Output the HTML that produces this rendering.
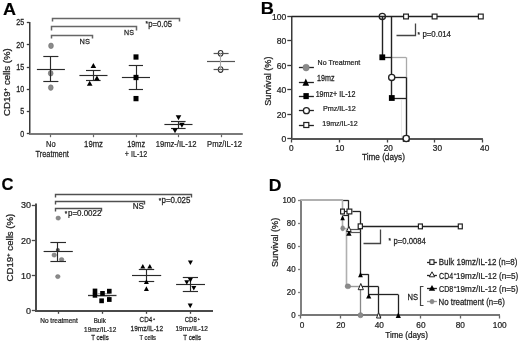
<!DOCTYPE html>
<html><head><meta charset="utf-8"><style>
html,body{margin:0;padding:0;background:#fff;}
svg{display:block;font-family:"Liberation Sans", sans-serif;filter:grayscale(1) blur(0.3px);}
</style></head><body>
<svg width="520" height="343" viewBox="0 0 520 343">
<rect width="520" height="343" fill="#fff"/>
<text transform="translate(2.95,14.6) scale(1.044,1)" font-size="17.3" fill="#000" font-weight="bold" stroke="#000" stroke-width="0.15">A</text>
<line x1="29.75" y1="22.0" x2="29.75" y2="134.5" stroke="#3a3a3a" stroke-width="1.5"/>
<line x1="29.0" y1="134.0" x2="242.8" y2="134.0" stroke="#7a7a7a" stroke-width="2"/>
<line x1="26.8" y1="22.5" x2="29.5" y2="22.5" stroke="#3a3a3a" stroke-width="1.3"/>
<text transform="translate(16.27,25.400000000000002) scale(0.870,1)" font-size="8.2" fill="#1e1e1e" stroke="#1e1e1e" stroke-width="0.25">25</text>
<line x1="26.8" y1="44.5" x2="29.5" y2="44.5" stroke="#3a3a3a" stroke-width="1.3"/>
<text transform="translate(16.25,47.599999999999994) scale(0.870,1)" font-size="8.2" fill="#1e1e1e" stroke="#1e1e1e" stroke-width="0.25">20</text>
<line x1="26.8" y1="67.5" x2="29.5" y2="67.5" stroke="#3a3a3a" stroke-width="1.3"/>
<text transform="translate(16.27,69.89999999999999) scale(0.870,1)" font-size="8.2" fill="#1e1e1e" stroke="#1e1e1e" stroke-width="0.25">15</text>
<line x1="26.8" y1="89.5" x2="29.5" y2="89.5" stroke="#3a3a3a" stroke-width="1.3"/>
<text transform="translate(16.25,92.2) scale(0.870,1)" font-size="8.2" fill="#1e1e1e" stroke="#1e1e1e" stroke-width="0.25">10</text>
<line x1="26.8" y1="111.5" x2="29.5" y2="111.5" stroke="#3a3a3a" stroke-width="1.3"/>
<text transform="translate(20.23,114.39999999999999) scale(0.870,1)" font-size="8.2" fill="#1e1e1e" stroke="#1e1e1e" stroke-width="0.25">5</text>
<line x1="26.8" y1="133.5" x2="29.5" y2="133.5" stroke="#3a3a3a" stroke-width="1.3"/>
<text transform="translate(20.21,136.70000000000002) scale(0.870,1)" font-size="8.2" fill="#1e1e1e" stroke="#1e1e1e" stroke-width="0.25">0</text>
<line x1="50.5" y1="134.5" x2="50.5" y2="137.2" stroke="#666" stroke-width="1.2"/>
<line x1="93.5" y1="134.5" x2="93.5" y2="137.2" stroke="#666" stroke-width="1.2"/>
<line x1="136.5" y1="134.5" x2="136.5" y2="137.2" stroke="#666" stroke-width="1.2"/>
<line x1="178.5" y1="134.5" x2="178.5" y2="137.2" stroke="#666" stroke-width="1.2"/>
<line x1="221.5" y1="134.5" x2="221.5" y2="137.2" stroke="#666" stroke-width="1.2"/>
<text transform="translate(9.70,115.98) rotate(-90)" font-size="8.4" fill="#1e1e1e" stroke="#1e1e1e" stroke-width="0.25" textLength="67.77" lengthAdjust="spacingAndGlyphs">CD19<tspan font-size="5.4" dy="-3.2">+</tspan><tspan dy="3.2"> cells (%)</tspan></text>
<polyline points="52.5,21.5 52.5,18.5 179.5,18.5 179.5,21.5" fill="none" stroke="#666" stroke-width="1.5" stroke-linejoin="miter" stroke-linecap="butt"/>
<polyline points="51.5,30.5 51.5,26.5 136.5,26.5 136.5,30.5" fill="none" stroke="#666" stroke-width="1.5" stroke-linejoin="miter" stroke-linecap="butt"/>
<polyline points="51.5,38.5 51.5,35.5 92.5,35.5 92.5,38.5" fill="none" stroke="#666" stroke-width="1.5" stroke-linejoin="miter" stroke-linecap="butt"/>
<text transform="translate(79.59,43.9) scale(0.926,1)" font-size="8.0" fill="#1e1e1e" stroke="#1e1e1e" stroke-width="0.25">NS</text>
<text transform="translate(124.02,35.0) scale(0.886,1)" font-size="8.0" fill="#1e1e1e" stroke="#1e1e1e" stroke-width="0.25">NS</text>
<text transform="translate(145.60,26.0) scale(1.000,1)" font-size="6.3" fill="#1e1e1e" stroke="#1e1e1e" stroke-width="0.25">*</text>
<text transform="translate(148.30,26.9) scale(0.873,1)" font-size="8.8" fill="#1e1e1e" stroke="#1e1e1e" stroke-width="0.25">p=0.05</text>
<ellipse cx="51" cy="45.8" rx="2.4" ry="2.8" fill="#8a8a8a" stroke="#666" stroke-width="0.5"/>
<ellipse cx="50.7" cy="73.3" rx="2.4" ry="2.8" fill="#8a8a8a" stroke="#666" stroke-width="0.5"/>
<ellipse cx="50.8" cy="87.6" rx="2.4" ry="2.8" fill="#8a8a8a" stroke="#666" stroke-width="0.5"/>
<line x1="36.9" y1="69.5" x2="64.9" y2="69.5" stroke="#2a2a2a" stroke-width="1.15"/>
<line x1="50.5" y1="56.4" x2="50.5" y2="81.0" stroke="#2a2a2a" stroke-width="1.15"/>
<line x1="43.3" y1="56.5" x2="58.4" y2="56.5" stroke="#2a2a2a" stroke-width="1.15"/>
<line x1="43.3" y1="81.5" x2="58.4" y2="81.5" stroke="#2a2a2a" stroke-width="1.15"/>
<line x1="79.4" y1="75.5" x2="107.5" y2="75.5" stroke="#2a2a2a" stroke-width="1.15"/>
<line x1="93.5" y1="70.0" x2="93.5" y2="80.2" stroke="#2a2a2a" stroke-width="1.15"/>
<line x1="86.0" y1="70.5" x2="100.6" y2="70.5" stroke="#2a2a2a" stroke-width="1.15"/>
<line x1="86.0" y1="80.5" x2="100.6" y2="80.5" stroke="#2a2a2a" stroke-width="1.15"/>
<polygon points="93.40,63.10 96.20,68.10 90.60,68.10" fill="#000" stroke="none" stroke-width="1.0" stroke-linejoin="miter"/>
<polygon points="96.90,75.40 99.70,80.40 94.10,80.40" fill="#000" stroke="none" stroke-width="1.0" stroke-linejoin="miter"/>
<polygon points="89.70,80.70 92.50,85.70 86.90,85.70" fill="#000" stroke="none" stroke-width="1.0" stroke-linejoin="miter"/>
<line x1="121.9" y1="77.5" x2="150" y2="77.5" stroke="#2a2a2a" stroke-width="1.15"/>
<line x1="136.5" y1="65.6" x2="136.5" y2="89.75" stroke="#2a2a2a" stroke-width="1.15"/>
<line x1="128.75" y1="65.5" x2="143" y2="65.5" stroke="#2a2a2a" stroke-width="1.15"/>
<line x1="128.75" y1="89.5" x2="143" y2="89.5" stroke="#2a2a2a" stroke-width="1.15"/>
<rect x="133.50" y="54.35" width="5.0" height="5.3" fill="#000" stroke="none" stroke-width="1.0"/>
<rect x="133.50" y="74.85" width="5.0" height="5.3" fill="#000" stroke="none" stroke-width="1.0"/>
<rect x="133.50" y="95.95" width="5.0" height="5.3" fill="#000" stroke="none" stroke-width="1.0"/>
<line x1="164.4" y1="124.5" x2="192.5" y2="124.5" stroke="#2a2a2a" stroke-width="1.15"/>
<line x1="178.5" y1="121" x2="178.5" y2="128.25" stroke="#2a2a2a" stroke-width="1.15"/>
<line x1="171" y1="121.5" x2="185.6" y2="121.5" stroke="#2a2a2a" stroke-width="1.15"/>
<line x1="171" y1="128.5" x2="185.6" y2="128.5" stroke="#2a2a2a" stroke-width="1.15"/>
<polygon points="178.50,120.30 181.30,115.30 175.70,115.30" fill="#000" stroke="none" stroke-width="1.0" stroke-linejoin="miter"/>
<polygon points="181.90,127.70 184.70,122.70 179.10,122.70" fill="#000" stroke="none" stroke-width="1.0" stroke-linejoin="miter"/>
<polygon points="175.00,133.20 177.80,128.20 172.20,128.20" fill="#000" stroke="none" stroke-width="1.0" stroke-linejoin="miter"/>
<ellipse cx="220.6" cy="53.3" rx="2.3" ry="2.8" fill="none" stroke="#333" stroke-width="1.1"/>
<ellipse cx="220.6" cy="69.6" rx="2.3" ry="2.8" fill="none" stroke="#333" stroke-width="1.1"/>
<line x1="207" y1="61.5" x2="235" y2="61.5" stroke="#555" stroke-width="1.2"/>
<line x1="213.6" y1="53.5" x2="228.6" y2="53.5" stroke="#555" stroke-width="1.2"/>
<line x1="213.6" y1="69.5" x2="228.6" y2="69.5" stroke="#555" stroke-width="1.2"/>
<line x1="220.5" y1="53.2" x2="220.5" y2="69.6" stroke="#aaa" stroke-width="1.1"/>
<text transform="translate(46.08,146.5) scale(0.785,1)" font-size="9.6" fill="#1e1e1e" stroke="#1e1e1e" stroke-width="0.25">No</text>
<text transform="translate(35.53,157.2) scale(0.768,1)" font-size="9.6" fill="#1e1e1e" stroke="#1e1e1e" stroke-width="0.25">Treatment</text>
<text transform="translate(84.12,146.5) scale(0.804,1)" font-size="9.6" fill="#1e1e1e" stroke="#1e1e1e" stroke-width="0.25">19mz</text>
<text transform="translate(127.15,146.5) scale(0.768,1)" font-size="9.6" fill="#1e1e1e" stroke="#1e1e1e" stroke-width="0.25">19mz</text>
<text transform="translate(124.86,157.2) scale(0.740,1)" font-size="9.6" fill="#1e1e1e" stroke="#1e1e1e" stroke-width="0.25">+ IL-12</text>
<text transform="translate(155.63,146.5) scale(0.797,1)" font-size="9.6" fill="#1e1e1e" stroke="#1e1e1e" stroke-width="0.25">19mz-/IL-12</text>
<text transform="translate(207.07,146.5) scale(0.797,1)" font-size="9.6" fill="#1e1e1e" stroke="#1e1e1e" stroke-width="0.25">Pmz/IL-12</text>
<text transform="translate(260.77,13.9) scale(1.083,1)" font-size="16.8" fill="#000" font-weight="bold" stroke="#000" stroke-width="0.15">B</text>
<line x1="291.75" y1="16.0" x2="291.75" y2="139.5" stroke="#3a3a3a" stroke-width="1.5"/>
<line x1="291.0" y1="139.0" x2="482.9" y2="139.0" stroke="#555" stroke-width="2"/>
<line x1="287.3" y1="16.5" x2="291.5" y2="16.5" stroke="#3a3a3a" stroke-width="1.3"/>
<text transform="translate(272.05,19.5) scale(0.930,1)" font-size="9.2" fill="#1e1e1e" stroke="#1e1e1e" stroke-width="0.25">100</text>
<line x1="287.3" y1="40.5" x2="291.5" y2="40.5" stroke="#3a3a3a" stroke-width="1.3"/>
<text transform="translate(276.82,43.9) scale(0.930,1)" font-size="9.2" fill="#1e1e1e" stroke="#1e1e1e" stroke-width="0.25">80</text>
<line x1="287.3" y1="65.5" x2="291.5" y2="65.5" stroke="#3a3a3a" stroke-width="1.3"/>
<text transform="translate(276.82,68.5) scale(0.930,1)" font-size="9.2" fill="#1e1e1e" stroke="#1e1e1e" stroke-width="0.25">60</text>
<line x1="287.3" y1="89.5" x2="291.5" y2="89.5" stroke="#3a3a3a" stroke-width="1.3"/>
<text transform="translate(276.82,92.89999999999999) scale(0.930,1)" font-size="9.2" fill="#1e1e1e" stroke="#1e1e1e" stroke-width="0.25">40</text>
<line x1="287.3" y1="114.5" x2="291.5" y2="114.5" stroke="#3a3a3a" stroke-width="1.3"/>
<text transform="translate(276.82,117.5) scale(0.930,1)" font-size="9.2" fill="#1e1e1e" stroke="#1e1e1e" stroke-width="0.25">20</text>
<line x1="287.3" y1="138.5" x2="291.5" y2="138.5" stroke="#3a3a3a" stroke-width="1.3"/>
<text transform="translate(281.57,141.9) scale(0.930,1)" font-size="9.2" fill="#1e1e1e" stroke="#1e1e1e" stroke-width="0.25">0</text>
<line x1="291.5" y1="139.5" x2="291.5" y2="142.5" stroke="#444" stroke-width="1.3"/>
<line x1="339.5" y1="139.5" x2="339.5" y2="142.5" stroke="#444" stroke-width="1.3"/>
<line x1="387.5" y1="139.5" x2="387.5" y2="142.5" stroke="#444" stroke-width="1.3"/>
<line x1="434.5" y1="139.5" x2="434.5" y2="142.5" stroke="#444" stroke-width="1.3"/>
<line x1="482.5" y1="139.5" x2="482.5" y2="142.5" stroke="#444" stroke-width="1.3"/>
<text transform="translate(289.11,151.0) scale(0.980,1)" font-size="8.4" fill="#1e1e1e" stroke="#1e1e1e" stroke-width="0.25">0</text>
<text transform="translate(335.28,151.0) scale(0.980,1)" font-size="8.4" fill="#1e1e1e" stroke="#1e1e1e" stroke-width="0.25">10</text>
<text transform="translate(383.68,151.0) scale(0.980,1)" font-size="8.4" fill="#1e1e1e" stroke="#1e1e1e" stroke-width="0.25">20</text>
<text transform="translate(432.83,151.0) scale(0.980,1)" font-size="8.4" fill="#1e1e1e" stroke="#1e1e1e" stroke-width="0.25">30</text>
<text transform="translate(480.09,151.0) scale(0.980,1)" font-size="8.4" fill="#1e1e1e" stroke="#1e1e1e" stroke-width="0.25">40</text>
<text transform="translate(361.92,160.2) scale(0.979,1)" font-size="8.4" fill="#1e1e1e" stroke="#1e1e1e" stroke-width="0.25">Time (days)</text>
<text transform="translate(271.10,105.77) rotate(-90)" font-size="8.6" fill="#1e1e1e" stroke="#1e1e1e" stroke-width="0.25" textLength="49.29" lengthAdjust="spacingAndGlyphs">Survival (%)</text>
<line x1="291.5" y1="16.5" x2="480.8" y2="16.5" stroke="#222" stroke-width="1.3"/>
<line x1="382.5" y1="16.5" x2="382.5" y2="57.3" stroke="#222" stroke-width="1.4"/>
<line x1="382.3" y1="57.5" x2="391.8" y2="57.5" stroke="#222" stroke-width="1.3"/>
<line x1="391.8" y1="57.5" x2="406" y2="57.5" stroke="#aaa" stroke-width="1.3"/>
<line x1="391.5" y1="16.5" x2="391.5" y2="98" stroke="#222" stroke-width="1.4"/>
<line x1="391.8" y1="77.5" x2="406" y2="77.5" stroke="#222" stroke-width="1.3"/>
<line x1="391.8" y1="98.5" x2="406" y2="98.5" stroke="#222" stroke-width="1.3"/>
<line x1="406.5" y1="57.3" x2="406.5" y2="77.2" stroke="#aaa" stroke-width="1.3"/>
<line x1="406.5" y1="77.2" x2="406.5" y2="138.6" stroke="#222" stroke-width="1.4"/>
<line x1="401.5" y1="100" x2="401.5" y2="138" stroke="#e4e4e4" stroke-width="0.8"/>
<circle cx="382.3" cy="16.4" r="3.1" fill="none" stroke="#222" stroke-width="1.3"/>
<rect x="379.40" y="54.40" width="5.8" height="5.8" fill="#000" stroke="none" stroke-width="1.0"/>
<circle cx="391.7" cy="77.4" r="3.1" fill="#fff" stroke="#222" stroke-width="1.3"/>
<rect x="388.90" y="95.10" width="5.8" height="5.8" fill="#000" stroke="none" stroke-width="1.0"/>
<rect x="403.30" y="136.30" width="5.6" height="5.0" fill="#fff" stroke="#222" stroke-width="1.1"/>
<circle cx="406.2" cy="138.5" r="3.1" fill="#fff" stroke="#222" stroke-width="1.3"/>
<rect x="403.60" y="14.10" width="4.8" height="4.8" fill="#fff" stroke="#222" stroke-width="1.2"/>
<rect x="432.20" y="14.10" width="4.8" height="4.8" fill="#fff" stroke="#222" stroke-width="1.2"/>
<rect x="478.40" y="14.10" width="4.8" height="4.8" fill="#fff" stroke="#222" stroke-width="1.2"/>
<polyline points="396.5,35.5 415.5,35.5 415.5,23.5" fill="none" stroke="#444" stroke-width="1.3" stroke-linejoin="miter" stroke-linecap="butt"/>
<text transform="translate(417.60,36.7) scale(1.000,1)" font-size="6.3" fill="#1e1e1e" stroke="#1e1e1e" stroke-width="0.25">*</text>
<text transform="translate(422.39,36.8) scale(0.893,1)" font-size="8.8" fill="#1e1e1e" stroke="#1e1e1e" stroke-width="0.25">p=0.014</text>
<line x1="298.9" y1="67.5" x2="313.9" y2="67.5" stroke="#222" stroke-width="1.3"/>
<line x1="298.9" y1="82.5" x2="313.9" y2="82.5" stroke="#222" stroke-width="1.3"/>
<line x1="298.9" y1="96.5" x2="313.9" y2="96.5" stroke="#222" stroke-width="1.3"/>
<line x1="298.9" y1="110.5" x2="313.9" y2="110.5" stroke="#222" stroke-width="1.3"/>
<line x1="298.9" y1="125.5" x2="313.9" y2="125.5" stroke="#222" stroke-width="1.3"/>
<text transform="translate(317.62,65.0) scale(0.882,1)" font-size="8.0" fill="#1e1e1e" stroke="#1e1e1e" stroke-width="0.25">No Treatment</text>
<text transform="translate(317.06,81.2) scale(0.873,1)" font-size="8.2" fill="#1e1e1e" stroke="#1e1e1e" stroke-width="0.25">19mz</text>
<text transform="translate(315.66,96.5) scale(0.871,1)" font-size="8.2" fill="#1e1e1e" stroke="#1e1e1e" stroke-width="0.25">19mz+ IL-12</text>
<text transform="translate(322.90,111.0) scale(0.904,1)" font-size="8.0" fill="#1e1e1e" stroke="#1e1e1e" stroke-width="0.25">Pmz/IL-12</text>
<text transform="translate(322.27,126.0) scale(0.887,1)" font-size="8.0" fill="#1e1e1e" stroke="#1e1e1e" stroke-width="0.25">19mz/IL-12</text>
<ellipse cx="306.1" cy="67.6" rx="3.2" ry="3.4" fill="#8a8a8a" stroke="#777" stroke-width="0.5"/>
<polygon points="305.80,78.45 309.10,85.65 302.50,85.65" fill="#000" stroke="none" stroke-width="1.0" stroke-linejoin="miter"/>
<rect x="303.40" y="93.10" width="5.4" height="6.0" fill="#000" stroke="none" stroke-width="1.0"/>
<circle cx="306.4" cy="110.7" r="3.0" fill="#fff" stroke="#222" stroke-width="1.3"/>
<rect x="303.80" y="122.50" width="5.0" height="5.0" fill="#fff" stroke="#222" stroke-width="1.2"/>
<text transform="translate(1.43,189.6) scale(0.962,1)" font-size="17.3" fill="#000" font-weight="bold" stroke="#000" stroke-width="0.15">C</text>
<line x1="36" y1="203.5" x2="36" y2="312" stroke="#4a4a4a" stroke-width="2"/>
<line x1="35" y1="311" x2="213" y2="311" stroke="#4a4a4a" stroke-width="2"/>
<line x1="31.8" y1="205.5" x2="35.5" y2="205.5" stroke="#4a4a4a" stroke-width="1.3"/>
<text transform="translate(20.92,208.3) scale(0.940,1)" font-size="9.6" fill="#1e1e1e" stroke="#1e1e1e" stroke-width="0.25">30</text>
<line x1="31.8" y1="240.5" x2="35.5" y2="240.5" stroke="#4a4a4a" stroke-width="1.3"/>
<text transform="translate(20.92,243.5) scale(0.940,1)" font-size="9.6" fill="#1e1e1e" stroke="#1e1e1e" stroke-width="0.25">20</text>
<line x1="31.8" y1="275.5" x2="35.5" y2="275.5" stroke="#4a4a4a" stroke-width="1.3"/>
<text transform="translate(20.92,278.75) scale(0.940,1)" font-size="9.6" fill="#1e1e1e" stroke="#1e1e1e" stroke-width="0.25">10</text>
<line x1="31.8" y1="310.5" x2="35.5" y2="310.5" stroke="#4a4a4a" stroke-width="1.3"/>
<text transform="translate(25.93,314.0) scale(0.940,1)" font-size="9.6" fill="#1e1e1e" stroke="#1e1e1e" stroke-width="0.25">0</text>
<line x1="58.5" y1="311.5" x2="58.5" y2="313.8" stroke="#444" stroke-width="1.3"/>
<line x1="102.5" y1="311.5" x2="102.5" y2="313.8" stroke="#444" stroke-width="1.3"/>
<line x1="146.5" y1="311.5" x2="146.5" y2="313.8" stroke="#444" stroke-width="1.3"/>
<line x1="190.5" y1="311.5" x2="190.5" y2="313.8" stroke="#444" stroke-width="1.3"/>
<text transform="translate(12.90,281.48) rotate(-90)" font-size="8.4" fill="#1e1e1e" stroke="#1e1e1e" stroke-width="0.25" textLength="67.67" lengthAdjust="spacingAndGlyphs">CD19<tspan font-size="5.4" dy="-3.2">+</tspan><tspan dy="3.2"> cells (%)</tspan></text>
<polyline points="55.5,197.5 55.5,194.5 191.5,194.5 191.5,197.5" fill="none" stroke="#505050" stroke-width="1.4" stroke-linejoin="miter" stroke-linecap="butt"/>
<polyline points="55.5,204.5 55.5,201.5 144.5,201.5 144.5,204.5" fill="none" stroke="#505050" stroke-width="1.4" stroke-linejoin="miter" stroke-linecap="butt"/>
<polyline points="55.5,211.5 55.5,208.5 101.5,208.5 101.5,211.5" fill="none" stroke="#505050" stroke-width="1.4" stroke-linejoin="miter" stroke-linecap="butt"/>
<text transform="translate(64.80,215.6) scale(1.000,1)" font-size="6.3" fill="#1e1e1e" stroke="#1e1e1e" stroke-width="0.25">*</text>
<text transform="translate(67.98,216.0) scale(0.906,1)" font-size="8.8" fill="#1e1e1e" stroke="#1e1e1e" stroke-width="0.25">p=0.0022</text>
<text transform="translate(132.63,208.8) scale(0.967,1)" font-size="8.4" fill="#1e1e1e" stroke="#1e1e1e" stroke-width="0.25">NS</text>
<text transform="translate(158.70,202.8) scale(1.000,1)" font-size="6.3" fill="#1e1e1e" stroke="#1e1e1e" stroke-width="0.25">*</text>
<text transform="translate(161.48,203.1) scale(0.903,1)" font-size="8.8" fill="#1e1e1e" stroke="#1e1e1e" stroke-width="0.25">p=0.025</text>
<ellipse cx="58.2" cy="218.1" rx="2.3" ry="2.1" fill="#8a8a8a" stroke="#666" stroke-width="0.4"/>
<ellipse cx="54.2" cy="255.1" rx="2.3" ry="2.1" fill="#8a8a8a" stroke="#666" stroke-width="0.4"/>
<ellipse cx="61.6" cy="259.5" rx="2.3" ry="2.1" fill="#8a8a8a" stroke="#666" stroke-width="0.4"/>
<ellipse cx="57.8" cy="276.6" rx="2.3" ry="2.1" fill="#8a8a8a" stroke="#666" stroke-width="0.4"/>
<ellipse cx="57.8" cy="250" rx="2.0" ry="2.0" fill="#555" stroke="none" stroke-width="1.0"/>
<line x1="43.6" y1="251.5" x2="72.8" y2="251.5" stroke="#2a2a2a" stroke-width="1.15"/>
<line x1="57.5" y1="242" x2="57.5" y2="261.6" stroke="#2a2a2a" stroke-width="1.15"/>
<line x1="50.4" y1="242.5" x2="66" y2="242.5" stroke="#2a2a2a" stroke-width="1.15"/>
<line x1="50.4" y1="261.5" x2="66" y2="261.5" stroke="#2a2a2a" stroke-width="1.15"/>
<line x1="88" y1="295.5" x2="116.5" y2="295.5" stroke="#333" stroke-width="1.3"/>
<line x1="98" y1="293.5" x2="110" y2="293.5" stroke="#999" stroke-width="0.8"/>
<line x1="98" y1="296.5" x2="110" y2="296.5" stroke="#999" stroke-width="0.8"/>
<rect x="92.70" y="288.60" width="4.6" height="4.8" fill="#000" stroke="none" stroke-width="1.0"/>
<rect x="92.70" y="292.90" width="4.6" height="4.8" fill="#000" stroke="none" stroke-width="1.0"/>
<rect x="100.20" y="291.00" width="4.6" height="4.8" fill="#000" stroke="none" stroke-width="1.0"/>
<rect x="107.00" y="288.80" width="4.6" height="4.8" fill="#000" stroke="none" stroke-width="1.0"/>
<rect x="99.30" y="298.40" width="4.6" height="4.8" fill="#000" stroke="none" stroke-width="1.0"/>
<rect x="107.00" y="297.10" width="4.6" height="4.8" fill="#000" stroke="none" stroke-width="1.0"/>
<line x1="132" y1="275.5" x2="161.2" y2="275.5" stroke="#2a2a2a" stroke-width="1.15"/>
<line x1="146.5" y1="269" x2="146.5" y2="281" stroke="#2a2a2a" stroke-width="1.15"/>
<line x1="138.8" y1="269.5" x2="154.2" y2="269.5" stroke="#2a2a2a" stroke-width="1.15"/>
<line x1="138.8" y1="281.5" x2="154.2" y2="281.5" stroke="#2a2a2a" stroke-width="1.15"/>
<polygon points="142.80,264.00 145.30,268.60 140.30,268.60" fill="#000" stroke="none" stroke-width="1.0" stroke-linejoin="miter"/>
<polygon points="149.80,264.00 152.30,268.60 147.30,268.60" fill="#000" stroke="none" stroke-width="1.0" stroke-linejoin="miter"/>
<polygon points="146.40,279.30 148.90,283.90 143.90,283.90" fill="#000" stroke="none" stroke-width="1.0" stroke-linejoin="miter"/>
<polygon points="146.40,286.30 148.90,290.90 143.90,290.90" fill="#000" stroke="none" stroke-width="1.0" stroke-linejoin="miter"/>
<line x1="176.1" y1="284.5" x2="205" y2="284.5" stroke="#2a2a2a" stroke-width="1.15"/>
<line x1="190.5" y1="277.3" x2="190.5" y2="291.25" stroke="#2a2a2a" stroke-width="1.15"/>
<line x1="182.8" y1="277.5" x2="198" y2="277.5" stroke="#2a2a2a" stroke-width="1.15"/>
<line x1="182.8" y1="291.5" x2="198" y2="291.5" stroke="#2a2a2a" stroke-width="1.15"/>
<polygon points="190.40,265.10 192.90,260.50 187.90,260.50" fill="#000" stroke="none" stroke-width="1.0" stroke-linejoin="miter"/>
<polygon points="190.40,282.60 192.90,278.00 187.90,278.00" fill="#000" stroke="none" stroke-width="1.0" stroke-linejoin="miter"/>
<polygon points="186.80,284.80 189.30,280.20 184.30,280.20" fill="#000" stroke="none" stroke-width="1.0" stroke-linejoin="miter"/>
<polygon points="193.80,290.50 196.30,285.90 191.30,285.90" fill="#000" stroke="none" stroke-width="1.0" stroke-linejoin="miter"/>
<polygon points="190.20,308.20 192.70,303.60 187.70,303.60" fill="#000" stroke="none" stroke-width="1.0" stroke-linejoin="miter"/>
<text transform="translate(40.26,322.8) scale(0.867,1)" font-size="7.5" fill="#1e1e1e" stroke="#1e1e1e" stroke-width="0.25">No treatment</text>
<text transform="translate(93.69,322.8) scale(0.830,1)" font-size="7.5" fill="#1e1e1e" stroke="#1e1e1e" stroke-width="0.25">Bulk</text>
<text transform="translate(84.12,331.6) scale(0.858,1)" font-size="7.5" fill="#1e1e1e" stroke="#1e1e1e" stroke-width="0.25">19mz/IL-12</text>
<text transform="translate(91.26,340.0) scale(0.815,1)" font-size="7.5" fill="#1e1e1e" stroke="#1e1e1e" stroke-width="0.25">T cells</text>
<text transform="translate(139.59,322.0) scale(0.807,1)" font-size="7.8" fill="#1e1e1e" stroke="#1e1e1e" stroke-width="0.25">CD4</text>
<text transform="translate(153.10,319.6) scale(1.000,1)" font-size="3.6" fill="#1e1e1e" stroke="#1e1e1e" stroke-width="0.25">+</text>
<text transform="translate(184.70,322.0) scale(0.780,1)" font-size="7.8" fill="#1e1e1e" stroke="#1e1e1e" stroke-width="0.25">CD8</text>
<text transform="translate(197.70,319.6) scale(1.000,1)" font-size="3.6" fill="#1e1e1e" stroke="#1e1e1e" stroke-width="0.25">+</text>
<text transform="translate(130.61,331.1) scale(0.864,1)" font-size="7.5" fill="#1e1e1e" stroke="#1e1e1e" stroke-width="0.25">19mz/IL-12</text>
<text transform="translate(139.57,339.6) scale(0.763,1)" font-size="7.5" fill="#1e1e1e" stroke="#1e1e1e" stroke-width="0.25">T cells</text>
<text transform="translate(175.51,331.1) scale(0.867,1)" font-size="7.5" fill="#1e1e1e" stroke="#1e1e1e" stroke-width="0.25">19mz/IL-12</text>
<text transform="translate(183.36,339.6) scale(0.820,1)" font-size="7.5" fill="#1e1e1e" stroke="#1e1e1e" stroke-width="0.25">T cells</text>
<text transform="translate(268.81,191.1) scale(1.019,1)" font-size="17.3" fill="#000" font-weight="bold" stroke="#000" stroke-width="0.15">D</text>
<line x1="301" y1="199.5" x2="301" y2="316" stroke="#808080" stroke-width="2"/>
<line x1="300" y1="315" x2="500" y2="315" stroke="#777" stroke-width="1.8"/>
<line x1="298" y1="200.5" x2="300.5" y2="200.5" stroke="#808080" stroke-width="1.3"/>
<text transform="translate(282.39,203.29999999999998) scale(0.880,1)" font-size="9.0" fill="#1e1e1e" stroke="#1e1e1e" stroke-width="0.25">100</text>
<line x1="298" y1="223.5" x2="300.5" y2="223.5" stroke="#808080" stroke-width="1.3"/>
<text transform="translate(286.81,226.2) scale(0.880,1)" font-size="9.0" fill="#1e1e1e" stroke="#1e1e1e" stroke-width="0.25">80</text>
<line x1="298" y1="246.5" x2="300.5" y2="246.5" stroke="#808080" stroke-width="1.3"/>
<text transform="translate(286.81,249.1) scale(0.880,1)" font-size="9.0" fill="#1e1e1e" stroke="#1e1e1e" stroke-width="0.25">60</text>
<line x1="298" y1="269.5" x2="300.5" y2="269.5" stroke="#808080" stroke-width="1.3"/>
<text transform="translate(286.81,272.1) scale(0.880,1)" font-size="9.0" fill="#1e1e1e" stroke="#1e1e1e" stroke-width="0.25">40</text>
<line x1="298" y1="292.5" x2="300.5" y2="292.5" stroke="#808080" stroke-width="1.3"/>
<text transform="translate(286.81,295.3) scale(0.880,1)" font-size="9.0" fill="#1e1e1e" stroke="#1e1e1e" stroke-width="0.25">20</text>
<line x1="298" y1="315.5" x2="300.5" y2="315.5" stroke="#808080" stroke-width="1.3"/>
<text transform="translate(291.20,318.3) scale(0.880,1)" font-size="9.0" fill="#1e1e1e" stroke="#1e1e1e" stroke-width="0.25">0</text>
<line x1="300.5" y1="315.5" x2="300.5" y2="318.5" stroke="#666" stroke-width="1.3"/>
<line x1="340.5" y1="315.5" x2="340.5" y2="318.5" stroke="#666" stroke-width="1.3"/>
<line x1="380.5" y1="315.5" x2="380.5" y2="318.5" stroke="#666" stroke-width="1.3"/>
<line x1="420.5" y1="315.5" x2="420.5" y2="318.5" stroke="#666" stroke-width="1.3"/>
<line x1="460.5" y1="315.5" x2="460.5" y2="318.5" stroke="#666" stroke-width="1.3"/>
<line x1="499.5" y1="315.5" x2="499.5" y2="318.5" stroke="#666" stroke-width="1.3"/>
<text transform="translate(299.69,327.9) scale(0.900,1)" font-size="9.2" fill="#1e1e1e" stroke="#1e1e1e" stroke-width="0.25">0</text>
<text transform="translate(336.15,327.9) scale(0.900,1)" font-size="9.2" fill="#1e1e1e" stroke="#1e1e1e" stroke-width="0.25">20</text>
<text transform="translate(374.67,327.9) scale(0.900,1)" font-size="9.2" fill="#1e1e1e" stroke="#1e1e1e" stroke-width="0.25">40</text>
<text transform="translate(416.35,327.9) scale(0.900,1)" font-size="9.2" fill="#1e1e1e" stroke="#1e1e1e" stroke-width="0.25">60</text>
<text transform="translate(455.68,327.9) scale(0.900,1)" font-size="9.2" fill="#1e1e1e" stroke="#1e1e1e" stroke-width="0.25">80</text>
<text transform="translate(492.84,327.9) scale(0.900,1)" font-size="9.2" fill="#1e1e1e" stroke="#1e1e1e" stroke-width="0.25">100</text>
<text transform="translate(385.32,337.6) scale(0.967,1)" font-size="8.4" fill="#1e1e1e" stroke="#1e1e1e" stroke-width="0.25">Time (days)</text>
<text transform="translate(278.00,266.97) rotate(-90)" font-size="8.6" fill="#1e1e1e" stroke="#1e1e1e" stroke-width="0.25" textLength="49.19" lengthAdjust="spacingAndGlyphs">Survival (%)</text>
<line x1="342.9" y1="200.5" x2="348.5" y2="200.5" stroke="#222" stroke-width="1.3"/>
<line x1="348.5" y1="200.2" x2="348.5" y2="233" stroke="#222" stroke-width="1.3"/>
<line x1="344.8" y1="211.5" x2="347.5" y2="211.5" stroke="#222" stroke-width="1.2"/>
<line x1="352.5" y1="211.5" x2="360.3" y2="211.5" stroke="#222" stroke-width="1.3"/>
<line x1="360.5" y1="211.3" x2="360.5" y2="274.5" stroke="#222" stroke-width="1.3"/>
<line x1="360.3" y1="226.5" x2="460.3" y2="226.5" stroke="#222" stroke-width="1.3"/>
<line x1="342.9" y1="215.5" x2="348.5" y2="215.5" stroke="#222" stroke-width="1.2"/>
<line x1="348.5" y1="229.5" x2="360.3" y2="229.5" stroke="#555" stroke-width="1.2"/>
<line x1="348.5" y1="232.5" x2="360.3" y2="232.5" stroke="#555" stroke-width="1.2"/>
<line x1="360.3" y1="274.5" x2="368.5" y2="274.5" stroke="#222" stroke-width="1.3"/>
<line x1="368.5" y1="274.2" x2="368.5" y2="294.6" stroke="#222" stroke-width="1.3"/>
<line x1="368.5" y1="294.5" x2="398.3" y2="294.5" stroke="#222" stroke-width="1.3"/>
<line x1="398.5" y1="294.6" x2="398.5" y2="315" stroke="#222" stroke-width="1.3"/>
<line x1="360.3" y1="286.5" x2="378.5" y2="286.5" stroke="#222" stroke-width="1.3"/>
<line x1="378.5" y1="286.6" x2="378.5" y2="315" stroke="#222" stroke-width="1.3"/>
<line x1="301" y1="200.0" x2="342.9" y2="200.0" stroke="#b0b0b0" stroke-width="2"/>
<line x1="342.5" y1="200.2" x2="342.5" y2="228.5" stroke="#b0b0b0" stroke-width="1.6"/>
<line x1="342.9" y1="228.5" x2="346.6" y2="228.5" stroke="#b0b0b0" stroke-width="1.5"/>
<line x1="346.5" y1="228.5" x2="346.5" y2="286.4" stroke="#b0b0b0" stroke-width="1.6"/>
<line x1="346.6" y1="286.5" x2="360.5" y2="286.5" stroke="#999" stroke-width="1.4"/>
<line x1="360.5" y1="286.4" x2="360.5" y2="315" stroke="#888" stroke-width="1.3"/>
<rect x="340.60" y="209.10" width="3.8" height="4.8" fill="#fff" stroke="#222" stroke-width="1.2"/>
<rect x="347.00" y="209.10" width="4.8" height="4.8" fill="#fff" stroke="#222" stroke-width="1.2"/>
<rect x="358.20" y="223.90" width="4.2" height="4.8" fill="#fff" stroke="#222" stroke-width="1.2"/>
<rect x="418.40" y="224.00" width="4.0" height="4.8" fill="#fff" stroke="#222" stroke-width="1.2"/>
<rect x="458.30" y="224.00" width="4.0" height="4.8" fill="#fff" stroke="#222" stroke-width="1.2"/>
<polygon points="342.60,215.20 344.90,220.20 340.30,220.20" fill="#000" stroke="none" stroke-width="1.0" stroke-linejoin="miter"/>
<ellipse cx="342.7" cy="228.3" rx="2.0" ry="2.6" fill="#8a8a8a" stroke="#777" stroke-width="0.4"/>
<polygon points="348.90,226.30 351.20,231.50 346.60,231.50" fill="#fff" stroke="#222" stroke-width="1.0" stroke-linejoin="miter"/>
<polygon points="348.90,230.40 351.60,235.80 346.20,235.80" fill="#000" stroke="none" stroke-width="1.0" stroke-linejoin="miter"/>
<polygon points="360.50,271.90 362.90,277.30 358.10,277.30" fill="#000" stroke="none" stroke-width="1.0" stroke-linejoin="miter"/>
<ellipse cx="347.9" cy="286.3" rx="2.8" ry="2.5" fill="#8a8a8a" stroke="#777" stroke-width="0.4"/>
<polygon points="360.80,283.50 363.40,289.70 358.20,289.70" fill="#fff" stroke="#222" stroke-width="1.0" stroke-linejoin="miter"/>
<polygon points="368.70,293.40 371.30,298.40 366.10,298.40" fill="#000" stroke="none" stroke-width="1.0" stroke-linejoin="miter"/>
<ellipse cx="360.5" cy="315.2" rx="2.5" ry="2.6" fill="#8a8a8a" stroke="#777" stroke-width="0.4"/>
<polygon points="378.60,312.60 380.70,318.00 376.50,318.00" fill="#fff" stroke="#222" stroke-width="1.0" stroke-linejoin="miter"/>
<polygon points="398.30,312.60 400.90,318.00 395.70,318.00" fill="#000" stroke="none" stroke-width="1.0" stroke-linejoin="miter"/>
<polyline points="363.5,243.5 380.5,243.5 380.5,229.5" fill="none" stroke="#444" stroke-width="1.3" stroke-linejoin="miter" stroke-linecap="butt"/>
<text transform="translate(388.40,242.8) scale(1.000,1)" font-size="6.3" fill="#1e1e1e" stroke="#1e1e1e" stroke-width="0.25">*</text>
<text transform="translate(393.60,244.0) scale(0.875,1)" font-size="8.8" fill="#1e1e1e" stroke="#1e1e1e" stroke-width="0.25">p=0.0084</text>
<line x1="427.0" y1="262.5" x2="436.9" y2="262.5" stroke="#222" stroke-width="1.3"/>
<line x1="427.0" y1="275.5" x2="436.9" y2="275.5" stroke="#222" stroke-width="1.3"/>
<line x1="427.0" y1="288.5" x2="436.9" y2="288.5" stroke="#222" stroke-width="1.3"/>
<line x1="427.0" y1="301.5" x2="436.9" y2="301.5" stroke="#999" stroke-width="1.3"/>
<text transform="translate(438.74,265.3) scale(0.886,1)" font-size="9.0" fill="#1e1e1e" stroke="#1e1e1e" stroke-width="0.25">Bulk 19mz/IL-12 (n=8)</text>
<text transform="translate(439.05,278.6) scale(0.786,1)" font-size="9.0" fill="#1e1e1e" stroke="#1e1e1e" stroke-width="0.25">CD4</text>
<text transform="translate(453.70,274.8) scale(1.000,1)" font-size="4.2" fill="#1e1e1e" stroke="#1e1e1e" stroke-width="0.25">+</text>
<text transform="translate(456.09,278.6) scale(0.904,1)" font-size="9.0" fill="#1e1e1e" stroke="#1e1e1e" stroke-width="0.25">19mz/IL-12 (n=5)</text>
<text transform="translate(439.04,292.0) scale(0.792,1)" font-size="9.0" fill="#1e1e1e" stroke="#1e1e1e" stroke-width="0.25">CD8</text>
<text transform="translate(453.70,288.2) scale(1.000,1)" font-size="4.2" fill="#1e1e1e" stroke="#1e1e1e" stroke-width="0.25">+</text>
<text transform="translate(456.09,292.0) scale(0.904,1)" font-size="9.0" fill="#1e1e1e" stroke="#1e1e1e" stroke-width="0.25">19mz/IL-12 (n=5)</text>
<text transform="translate(438.45,304.8) scale(0.877,1)" font-size="9.0" fill="#1e1e1e" stroke="#1e1e1e" stroke-width="0.25">No treatment (n=6)</text>
<rect x="429.80" y="259.80" width="4.2" height="4.6" fill="#fff" stroke="#222" stroke-width="1.1"/>
<polygon points="432.00,271.80 434.70,276.80 429.30,276.80" fill="#fff" stroke="#222" stroke-width="1.0" stroke-linejoin="miter"/>
<polygon points="432.00,285.10 435.20,290.70 428.80,290.70" fill="#000" stroke="none" stroke-width="1.0" stroke-linejoin="miter"/>
<ellipse cx="432.0" cy="301.6" rx="2.1" ry="2.3" fill="#8a8a8a" stroke="#777" stroke-width="0.4"/>
<polyline points="423.5,286.5 420.5,286.5 420.5,305.5 423.5,305.5" fill="none" stroke="#444" stroke-width="1.2" stroke-linejoin="miter" stroke-linecap="butt"/>
<text transform="translate(407.57,300.2) scale(0.905,1)" font-size="8.4" fill="#1e1e1e" stroke="#1e1e1e" stroke-width="0.25">NS</text>
</svg>
</body></html>
